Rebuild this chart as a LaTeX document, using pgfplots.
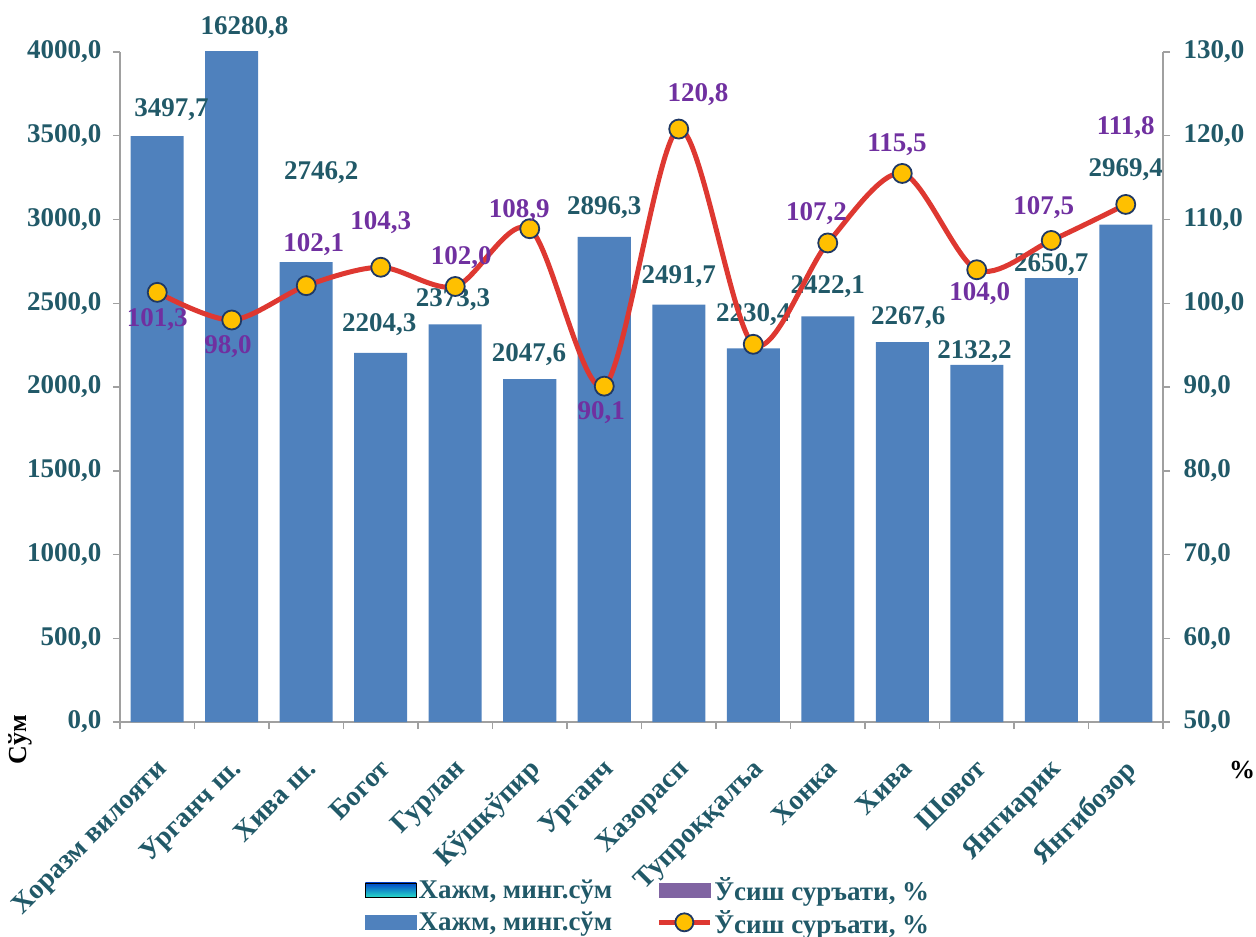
\documentclass[border=0pt]{standalone}
\usepackage{fontspec}
\setmainfont{Liberation Serif}
\usepackage{pgfplots}
\pgfplotsset{compat=1.18}
\definecolor{barblue}{RGB}{79,129,189}
\definecolor{tealc}{RGB}{33,89,104}
\definecolor{purp}{RGB}{112,48,160}
\definecolor{purp2}{RGB}{128,100,162}
\definecolor{redl}{RGB}{222,56,49}
\definecolor{yel}{RGB}{255,192,0}
\definecolor{navy}{RGB}{31,56,100}
\definecolor{axgrey}{RGB}{160,160,160}
\definecolor{gtop}{RGB}{0,70,200}
\definecolor{gmid}{RGB}{0,160,220}
\definecolor{gbot}{RGB}{40,215,200}
\newcommand\lf{\fontsize{27}{31}\selectfont\bfseries}
\newcommand\xf{\fontsize{28}{32}\selectfont\bfseries}
\begin{document}
\begin{tikzpicture}[x=1pt,y=1pt]
\useasboundingbox (-120,-215) rectangle (1136,722);
\pgfplotsset{
  common/.style={
    at={(0,0)}, anchor=south west,
    scale only axis, width=1043pt, height=670pt,
    xmin=-0.5, xmax=13.5,
    clip mode=individual,
    tick align=outside,
    axis line style={axgrey, line width=1.5pt},
    every tick/.style={axgrey, line width=1.5pt},
    major tick length=7pt, minor tick length=7pt,
    /pgf/number format/.cd, fixed, fixed zerofill, precision=1, use comma, 1000 sep={}, assume math mode=true,
  }
}
\begin{axis}[common,
  axis y line*=left, axis x line*=bottom,
  ymin=0, ymax=4000, ytick={0,500,...,4000},
  yticklabel style={font=\lf, text=tealc, xshift=-8pt},
  xtick={0,...,13},
  major x tick style={draw=none},
  minor xtick={-0.5,0.5,...,13.5},
  xticklabels={Хоразм вилояти, Урганч ш., Хива ш., Богот, Гурлан, Кўшкўпир, Урганч, Хазорасп, Тупроққалъа, Хонка, Хива, Шовот, Янгиарик, Янгибозор},
  xticklabel style={font=\xf, text=tealc, rotate=45, anchor=north east, xshift=-18pt, yshift=-15pt},
]
\addplot[ybar, bar width=53pt, fill=barblue, draw=none] coordinates {
 (0,3497.7) (1,16280.8) (2,2746.2) (3,2204.3) (4,2373.3) (5,2047.6) (6,2896.3)
 (7,2491.7) (8,2230.4) (9,2422.1) (10,2267.6) (11,2132.2) (12,2650.7) (13,2969.4)};
\begin{scope}[every node/.style={font=\lf, text=tealc}]
\node at (axis cs:0.19,3653) {3497,7};
\node at (axis cs:1.17,4143) {16280,8};
\node at (axis cs:2.2,3278) {2746,2};
\node at (axis cs:2.98,2370) {2204,3};
\node at (axis cs:3.97,2519) {2373,3};
\node at (axis cs:4.99,2191) {2047,6};
\node at (axis cs:6.0,3069) {2896,3};
\node at (axis cs:7.0,2657) {2491,7};
\node at (axis cs:8.0,2430) {2230,4};
\node at (axis cs:9.0,2597) {2422,1};
\node at (axis cs:10.08,2412) {2267,6};
\node at (axis cs:10.97,2209) {2132,2};
\node at (axis cs:12.0,2728) {2650,7};
\node at (axis cs:13.0,3295) {2969,4};
\end{scope}
\end{axis}
\begin{axis}[common,
  axis y line*=right, axis x line=none,
  ymin=50, ymax=130, ytick={50,60,...,130},
  yticklabel style={font=\lf, text=tealc, xshift=10pt},
  legend columns=2,
  legend style={draw=none, fill=none, at={(0.232,-0.226)}, anchor=north west,
    font=\lf, text=tealc, row sep=4pt,
    /tikz/every even column/.append style={column sep=42pt}},
]
\addlegendimage{legend image code/.code={\shade[top color=gtop, middle color=gmid, bottom color=gbot] (0pt,-7pt) rectangle (51pt,7pt);}}
\addlegendentry{Хажм, минг.сўм}
\addlegendimage{legend image code/.code={\fill[purp2] (0pt,-7pt) rectangle (51pt,7pt);}}
\addlegendentry{Ўсиш суръати, \%}
\addlegendimage{legend image code/.code={\fill[barblue] (0pt,-7pt) rectangle (51pt,7pt);}}
\addlegendentry{Хажм, минг.сўм}
\addplot[redl, line width=5pt, smooth, tension=0.5, mark=*, mark size=9.5pt,
  mark options={fill=yel, draw=navy, line width=1.8pt},
  legend image code/.code={\draw[redl, line width=5pt] (0pt,0pt) -- (51pt,0pt); \draw[fill=yel, draw=navy, line width=1.8pt] (25.5pt,0pt) circle (9pt);}]
 coordinates {(0,101.3) (1,98.0) (2,102.1) (3,104.3) (4,102.0) (5,108.9) (6,90.1)
 (7,120.8) (8,95.1) (9,107.2) (10,115.5) (11,104.0) (12,107.5) (13,111.8)};
\addlegendentry{Ўсиш суръати, \%}
\begin{scope}[every node/.style={font=\lf, text=purp}]
\node at (axis cs:0,98.0) {101,3};
\node at (axis cs:0.95,94.8) {98,0};
\node at (axis cs:2.1,107.0) {102,1};
\node at (axis cs:3.0,109.6) {104,3};
\node at (axis cs:4.08,105.5) {102,0};
\node at (axis cs:4.86,111.1) {108,9};
\node at (axis cs:5.96,86.9) {90,1};
\node at (axis cs:7.26,124.9) {120,8};
\node at (axis cs:8.85,110.7) {107,2};
\node at (axis cs:9.93,118.9) {115,5};
\node at (axis cs:11.04,101.2) {104,0};
\node at (axis cs:11.9,111.4) {107,5};
\node at (axis cs:13.0,121.0) {111,8};
\end{scope}
\end{axis}
\node[rotate=90, font=\fontsize{26}{30}\selectfont\bfseries] at (-100,-18) {Сўм};
\node[font=\fontsize{26}{30}\selectfont\bfseries] at (1122,-48) {\%};
\end{tikzpicture}
\end{document}
